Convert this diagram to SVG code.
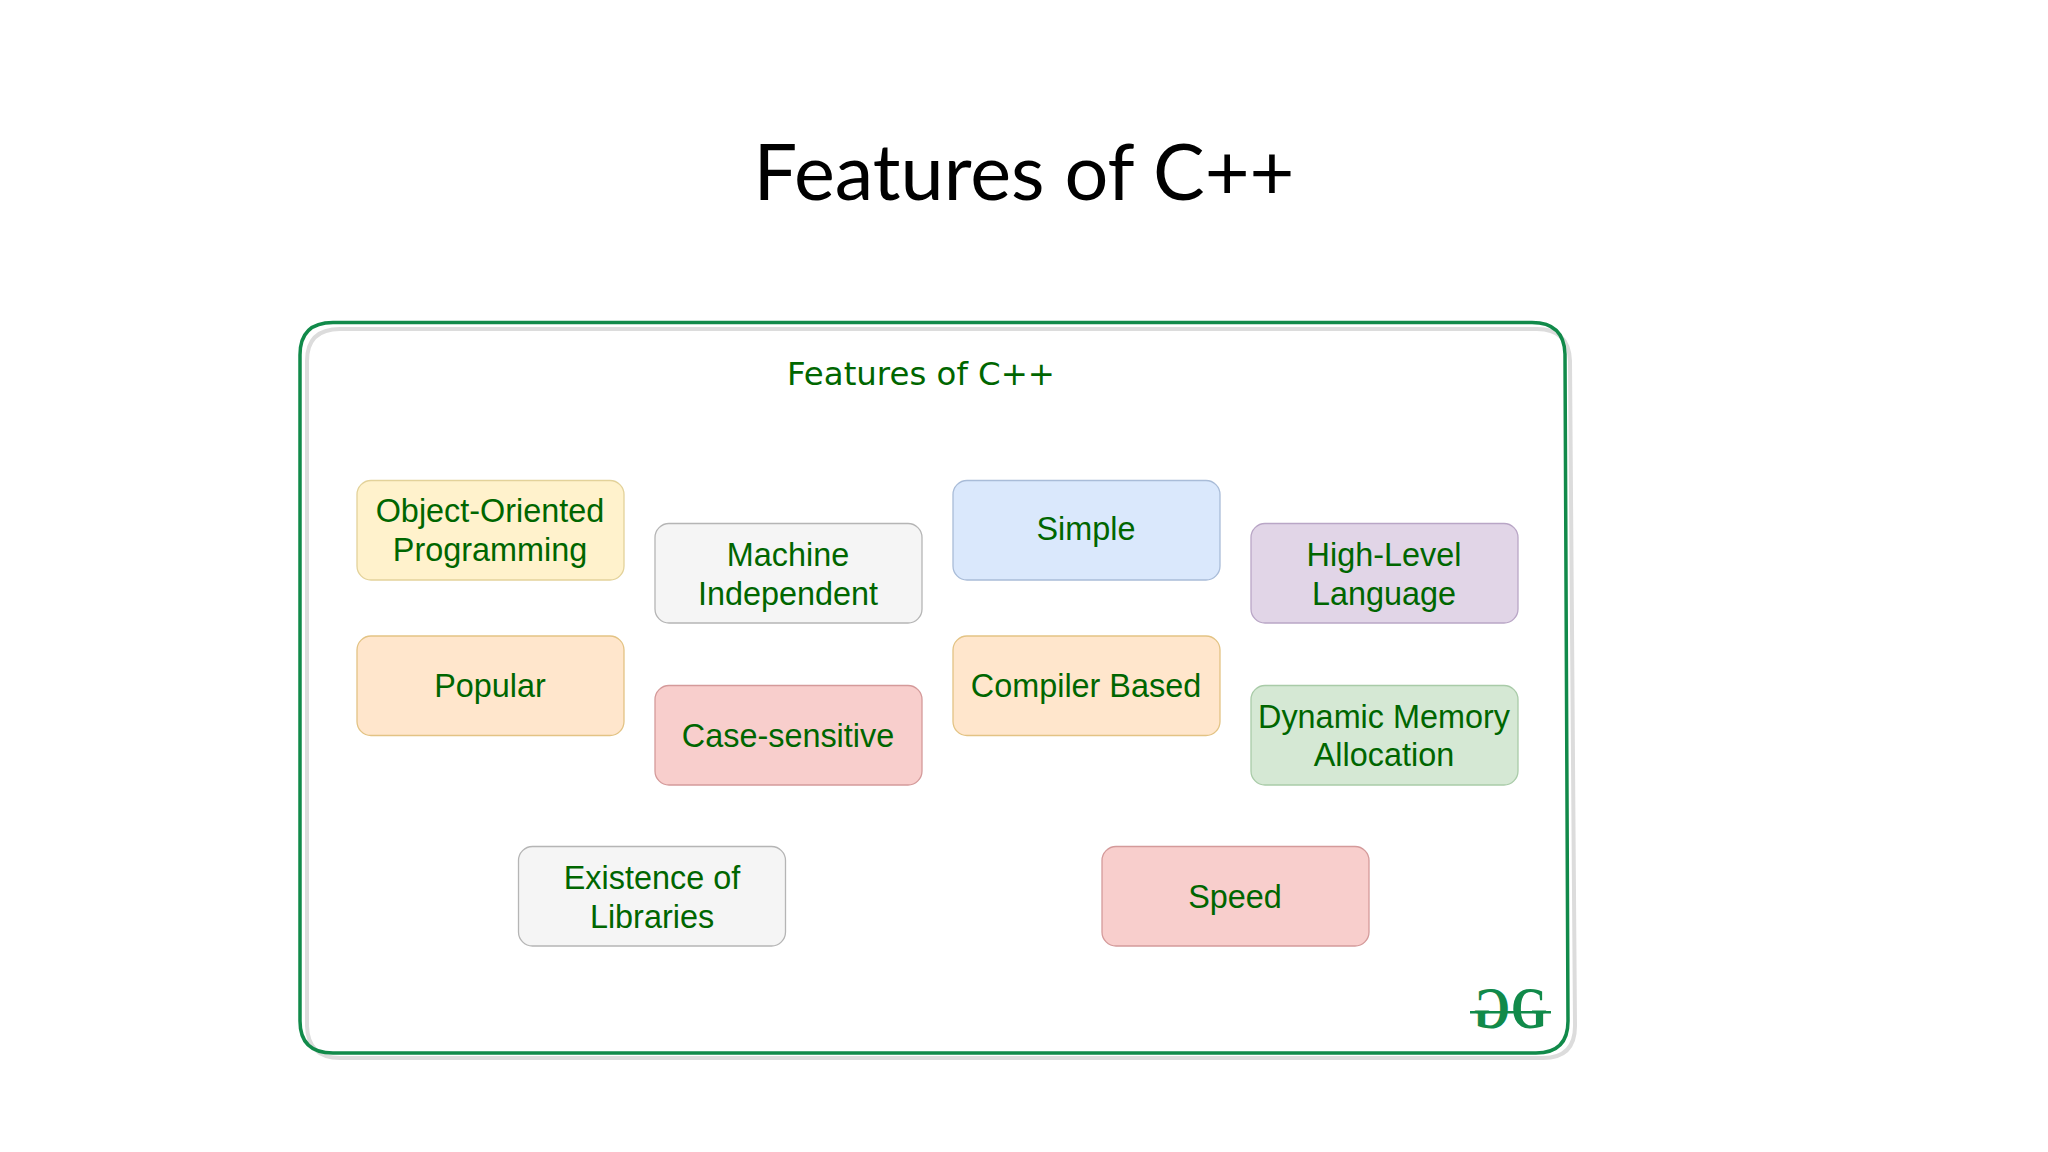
<svg xmlns="http://www.w3.org/2000/svg" width="2048" height="1152" viewBox="0 0 2048 1152">
<style>
.b{stroke-width:1.3}
.t{font-family:"Liberation Sans",Arial,sans-serif;font-size:32.400px;fill:#006600;text-anchor:middle}
.logo{font-family:"Liberation Serif",serif;font-size:60px;font-weight:bold;fill:#118A4A}
</style>
<rect width="2048" height="1152" fill="#fff"/>
<text id="slide-title" x="1024" y="200" font-family="Lato,sans-serif" font-size="77.400" fill="#000" text-anchor="middle">Features of C++</text>
<g id="frame" fill="none">
<path d="M340 329H1537Q1569 329 1570 361L1575 1026Q1575 1058 1543 1058H340Q308 1058 307 1026V361Q307 329 340 329Z" stroke="#dcdcdc" stroke-width="4"/>
<path d="M333 322.500H1532Q1564 322.500 1565 354L1568 1021Q1568 1053 1536 1053H333Q300 1053 300 1021V355Q300 322.500 333 322.500Z" stroke="#118A4A" stroke-width="3.500"/>
</g>
<text id="frame-title" x="921" y="385" font-family="DejaVu Sans,sans-serif" font-size="32.400" fill="#006600" text-anchor="middle">Features of C++</text>
<g id="connectors"/>
<g id="n1"><rect class="b" x="357" y="480.500" width="267" height="99.500" rx="14" fill="#fff2cc" stroke="#e3d29a"/><text class="t" x="490" y="522">Object-Oriented</text><text class="t" x="490" y="561">Programming</text></g>
<g id="n2"><rect class="b" x="655" y="523.500" width="267" height="99.500" rx="14" fill="#f5f5f5" stroke="#b5b5b5"/><text class="t" x="788" y="566">Machine</text><text class="t" x="788" y="605">Independent</text></g>
<g id="n3"><rect class="b" x="953" y="480.500" width="267" height="99.500" rx="14" fill="#dae8fc" stroke="#a9bcd8"/><text class="t" x="1086" y="540">Simple</text></g>
<g id="n4"><rect class="b" x="1251" y="523.500" width="267" height="99.500" rx="14" fill="#e1d5e7" stroke="#b9a6c6"/><text class="t" x="1384" y="566">High-Level</text><text class="t" x="1384" y="605">Language</text></g>
<g id="n5"><rect class="b" x="357" y="636" width="267" height="99.500" rx="14" fill="#ffe6cc" stroke="#e3c384"/><text class="t" x="490" y="697">Popular</text></g>
<g id="n6"><rect class="b" x="655" y="685.500" width="267" height="99.500" rx="14" fill="#f8cecc" stroke="#d49a9a"/><text class="t" x="788" y="747">Case-sensitive</text></g>
<g id="n7"><rect class="b" x="953" y="636" width="267" height="99.500" rx="14" fill="#ffe6cc" stroke="#e3c384"/><text class="t" x="1086" y="697">Compiler Based</text></g>
<g id="n8"><rect class="b" x="1251" y="685.500" width="267" height="99.500" rx="14" fill="#d5e8d4" stroke="#a9cba8"/><text class="t" x="1384" y="728">Dynamic Memory</text><text class="t" x="1384" y="766">Allocation</text></g>
<g id="n9"><rect class="b" x="518.500" y="846.500" width="267" height="99.500" rx="14" fill="#f5f5f5" stroke="#b5b5b5"/><text class="t" x="652" y="889">Existence of</text><text class="t" x="652" y="928">Libraries</text></g>
<g id="n10"><rect class="b" x="1102" y="846.500" width="267" height="99.500" rx="14" fill="#f8cecc" stroke="#d49a9a"/><text class="t" x="1235" y="908">Speed</text></g>
<g id="logo">
<text class="logo" transform="translate(1511 1028) scale(.78 1)">G</text>
<text class="logo" transform="translate(1510 1028) scale(-.78 1)">G</text>
<rect x="1470" y="1011" width="81" height="2.500" fill="#118A4A"/>
</g>
</svg>
